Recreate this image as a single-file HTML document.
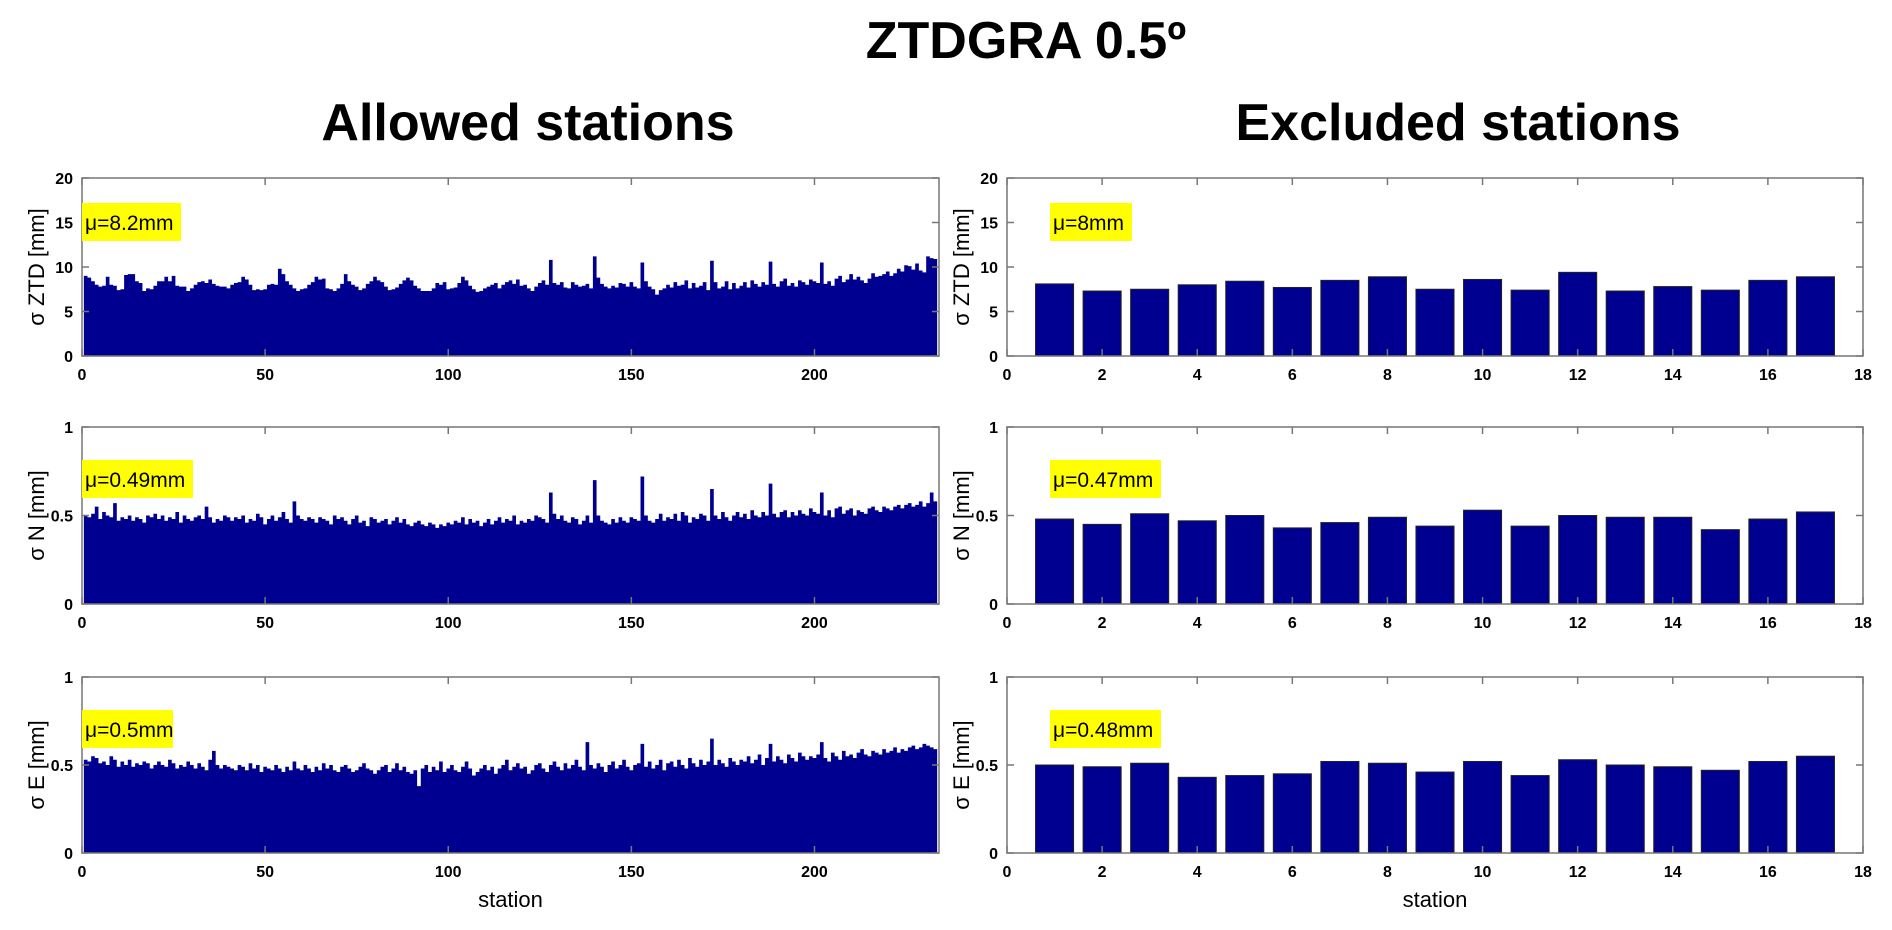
<!DOCTYPE html>
<html><head><meta charset="utf-8"><style>
html,body{margin:0;padding:0;background:#fff;}
svg{display:block;font-family:"Liberation Sans",Arial,sans-serif;}
</style></head><body>
<svg id="chart" width="1892" height="930" viewBox="0 0 1892 930">
<text x="1026" y="58" text-anchor="middle" font-size="52" font-weight="bold">ZTDGRA 0.5º</text>
<text x="528" y="140" text-anchor="middle" font-size="52" font-weight="bold">Allowed stations</text>
<text x="1458" y="140" text-anchor="middle" font-size="52" font-weight="bold">Excluded stations</text>
</svg>
<script>
const allowedZTD=[9.0,8.8,8.4,8.0,7.8,7.9,8.9,8.0,7.9,7.4,7.5,9.1,9.2,9.2,8.4,8.2,7.3,7.6,7.5,7.9,
8.4,8.4,8.9,8.4,9.0,7.9,7.8,7.8,7.3,7.6,8.0,8.3,8.4,8.2,8.6,8.1,7.9,7.8,7.8,7.6,
8.0,8.2,8.3,8.9,8.6,8.0,7.4,7.5,7.4,7.5,8.0,8.1,8.0,9.8,9.2,8.4,8.0,7.6,7.3,7.5,
7.6,8.0,8.3,8.9,8.6,8.7,7.6,7.5,7.3,7.6,8.1,9.2,8.4,8.0,7.8,7.4,7.6,8.1,8.4,8.9,
8.5,8.3,7.8,7.4,7.5,7.7,8.1,8.5,8.8,8.5,7.9,7.6,7.3,7.3,7.3,7.6,8.2,8.0,8.3,7.5,
7.6,7.7,8.2,8.9,8.5,7.9,7.5,7.2,7.3,7.6,7.8,8.0,8.2,7.6,8.0,8.3,8.5,8.1,8.6,7.9,
8.0,7.6,7.3,7.8,8.2,8.5,8.0,10.8,8.2,8.0,8.3,7.7,7.6,8.3,8.0,7.8,7.9,8.1,7.6,11.2,
8.8,8.1,7.8,7.6,7.9,7.7,8.2,8.1,7.8,8.3,7.8,7.6,10.5,8.4,7.8,7.5,6.9,7.4,7.6,8.0,
7.7,8.3,7.9,8.0,8.5,7.6,8.2,7.7,7.9,8.3,7.4,10.7,8.3,7.6,7.8,8.4,7.5,8.2,7.6,7.9,
8.3,7.7,8.5,8.1,7.8,8.3,8.0,10.6,8.1,7.8,8.4,8.7,7.9,8.2,7.8,8.5,8.3,8.0,8.6,8.4,
8.2,10.5,8.1,8.4,7.9,8.7,9.0,8.3,8.6,9.2,8.6,8.9,8.5,8.2,8.7,9.3,8.9,9.0,9.2,9.5,
9.0,9.3,9.8,9.5,10.2,10.1,9.7,10.4,9.6,9.4,11.2,11.0,10.9];
const allowedN=[50,49,51,55,48,52,50,49,57,47,49,48,50,47,49,48,46,50,49,51,
48,50,47,49,48,52,46,50,48,47,49,50,48,55,49,46,48,47,50,49,
47,49,48,50,46,48,47,51,49,45,48,50,47,49,52,48,46,58,50,48,
47,49,48,46,49,48,47,45,50,48,49,47,45,48,50,46,47,44,49,48,
46,47,48,45,47,49,46,48,45,44,46,47,45,44,46,45,43,45,44,46,
45,47,46,49,45,48,46,47,44,46,48,45,47,49,46,48,47,50,45,47,
46,48,47,50,49,48,46,63,51,48,50,47,46,49,48,45,47,50,46,70,
50,47,46,45,48,46,49,47,46,49,48,47,72,50,47,46,48,51,47,49,
48,51,47,52,50,46,49,48,51,50,47,65,50,48,52,49,47,50,52,49,
51,48,53,50,49,52,50,68,51,49,52,53,49,52,50,53,51,50,54,52,
51,63,50,53,49,54,55,51,53,54,50,53,52,51,54,55,53,52,55,54,
53,55,56,54,56,57,55,56,58,55,57,63,58];
const allowedE=[53,52,55,54,51,52,50,55,53,49,52,50,53,49,51,50,52,51,48,50,
52,50,49,53,51,48,50,49,52,50,48,51,49,47,53,58,50,48,50,49,
48,47,50,49,47,51,48,50,46,49,48,47,50,48,46,49,47,52,48,47,
50,48,46,49,47,51,48,50,47,46,49,50,48,46,47,49,51,48,47,45,
47,49,50,46,48,51,47,49,46,45,47,38,48,50,46,49,47,52,46,48,
50,47,46,49,52,48,44,46,48,50,47,49,45,48,50,53,47,49,51,48,
49,45,47,50,51,48,46,50,52,49,47,51,48,50,53,49,47,63,50,48,
51,49,46,50,52,48,50,53,49,47,50,51,62,49,52,48,50,53,47,51,
52,49,53,50,48,54,51,49,53,50,52,65,50,53,51,49,54,52,50,53,
52,55,51,53,56,50,54,62,52,55,53,51,56,54,52,57,55,53,55,54,
56,63,54,52,57,55,53,58,55,56,54,57,59,56,55,58,57,56,59,57,
58,60,57,59,58,60,61,59,60,62,61,60,59];
const excludedZTD=[8.1,7.3,7.5,8.0,8.4,7.7,8.5,8.9,7.5,8.6,7.4,9.4,7.3,7.8,7.4,8.5,8.9];
const excludedN=[0.48,0.45,0.51,0.47,0.50,0.43,0.46,0.49,0.44,0.53,0.44,0.50,0.49,0.49,0.42,0.48,0.52];
const excludedE=[0.50,0.49,0.51,0.43,0.44,0.45,0.52,0.51,0.46,0.52,0.44,0.53,0.50,0.49,0.47,0.52,0.55];
const leftXTicks=[0,50,100,150,200];
const rightXTicks=[0,2,4,6,8,10,12,14,16,18];
const ztdYTicks=[0,5,10,15,20];
const unitYTicks=[0,0.5,1];
const yTickLabels={0:"0",5:"5",10:"10",15:"15",20:"20",0.5:"0.5",1:"1"};
const meanLabels=["μ=8.2mm","μ=0.49mm","μ=0.5mm","μ=8mm","μ=0.47mm","μ=0.48mm"];
const yTitles=["σ ZTD [mm]","σ N [mm]","σ E [mm]"];

const NS="http://www.w3.org/2000/svg";
const svg=document.getElementById('chart');
function mk(tag,attrs,parent){const e=document.createElementNS(NS,tag);for(const k in attrs)e.setAttribute(k,attrs[k]);(parent||svg).appendChild(e);return e;}

const rows=[{top:178,bot:356},{top:427,bot:604},{top:677,bot:853}];
const cols=[{l:82,r:939,xmax:234,ticks:leftXTicks,type:'hist'},{l:1007,r:1863,xmax:18,ticks:rightXTicks,type:'bar'}];
const dataSets=[[allowedZTD,allowedN.map(v=>v/100),allowedE.map(v=>v/100)],[excludedZTD,excludedN,excludedE]];
const names=['allowed','excluded'];
const rowNames=['ztd','n','e'];
const boxW=[[99,111,91],[82,111,111]];

cols.forEach((c,ci)=>{
  rows.forEach((r,ri)=>{
    const ymax=ri===0?20:1;
    const yt=ri===0?ztdYTicks:unitYTicks;
    const xS=v=>c.l+(v/c.xmax)*(c.r-c.l);
    const yS=v=>r.bot-(v/ymax)*(r.bot-r.top);
    const g=mk('g',{});
    
    
    const vals=dataSets[ci][ri];
    if(c.type==='hist'){
      let d='M'+xS(0.5)+','+yS(0);
      vals.forEach((v,i)=>{d+=' L'+xS(i+0.5)+','+yS(v)+' L'+xS(i+1.5)+','+yS(v);});
      d+=' L'+xS(vals.length+0.5)+','+yS(0)+' Z';
      const p=mk('path',{d:d,fill:'#000090',stroke:'none'},g);
      
      
    } else {
      vals.forEach((v,i)=>{
        const x0=xS(i+1-0.4),x1=xS(i+1+0.4);
        const b=mk('rect',{x:x0,y:yS(v),width:x1-x0,height:yS(0)-yS(v),fill:'#000090',stroke:'#222',"stroke-width":1},g);
        
        
      });
    }
    const ax=mk('rect',{x:c.l,y:r.top,width:c.r-c.l,height:r.bot-r.top,fill:'none',stroke:'#777',"stroke-width":1.5},g);
    
    
    yt.forEach(t=>{
      const y=yS(t);
      mk('line',{x1:c.l,x2:c.l+7,y1:y,y2:y,stroke:'#777',"stroke-width":1.5},g);
      mk('line',{x1:c.r,x2:c.r-7,y1:y,y2:y,stroke:'#777',"stroke-width":1.5},g);
      const tl=mk('text',{x:c.l-9,y:y+6,"text-anchor":'end',"font-size":16,"font-weight":'bold'},g);
      tl.textContent=yTickLabels[t];
      
      
    });
    c.ticks.forEach(t=>{
      const x=xS(t);
      mk('line',{x1:x,x2:x,y1:r.bot,y2:r.bot-7,stroke:'#777',"stroke-width":1.5},g);
      mk('line',{x1:x,x2:x,y1:r.top,y2:r.top+7,stroke:'#777',"stroke-width":1.5},g);
      const tl=mk('text',{x:x,y:r.bot+24,"text-anchor":'middle',"font-size":16,"font-weight":'bold'},g);
      tl.textContent=String(t);
      
      
    });
    const bx=ci===0?c.l:1050;
    const by=r.top+25+(ri===0?0:8);
    const yb=mk('rect',{x:bx,y:by,width:boxW[ci][ri],height:38,fill:'#ffff00'},g);
    
    
    const mt=mk('text',{x:bx+3,y:by+27,"font-size":21},g);
    mt.textContent=meanLabels[ci*3+ri];
    
    
    const ytx=c.l-38, yty=(r.top+r.bot)/2;
    const ytl=mk('text',{x:ytx,y:yty,"text-anchor":'middle',"font-size":22,transform:'rotate(-90 '+ytx+' '+yty+')'},g);
    ytl.textContent=yTitles[ri];
    
    
    if(ri===2){
      const xl=mk('text',{x:(c.l+c.r)/2,y:907,"text-anchor":'middle',"font-size":22},g);
      xl.textContent='station';
      
      
    }
  });
});
</script>
</body></html>
